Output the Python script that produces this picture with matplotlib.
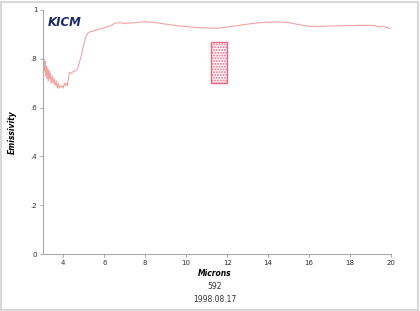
import matplotlib.pyplot as plt
import matplotlib.patches as mpatches

# spectrum
microns = [3.0, 3.03, 3.06, 3.09, 3.12, 3.15, 3.18, 3.21, 3.24, 3.27, 3.30, 3.33, 3.36,
           3.40, 3.45, 3.50, 3.55, 3.60, 3.65, 3.70, 3.75, 3.80, 3.85, 3.90, 3.95, 4.00,
           4.05, 4.10, 4.15, 4.20, 4.25, 4.30, 4.40, 4.50, 4.60, 4.70, 4.80, 4.90, 5.00,
           5.10, 5.20, 5.30, 5.50, 5.70, 5.90, 6.10, 6.30, 6.50, 6.70, 7.00, 7.50, 8.00,
           8.50, 9.00, 9.50, 10.0, 10.5, 11.0, 11.5, 12.0, 12.5, 13.0, 13.5, 14.0, 14.5,
           15.0, 15.5, 16.0, 16.5, 17.0, 17.5, 18.0, 18.5, 19.0, 19.2, 19.4, 19.6, 19.8, 20.0]
emissivity = [0.78, 0.74, 0.80, 0.75, 0.79, 0.73, 0.77, 0.72, 0.76, 0.71, 0.75, 0.72, 0.74,
              0.70, 0.73, 0.70, 0.72, 0.69, 0.71, 0.68, 0.70, 0.68, 0.69, 0.685, 0.69, 0.68,
              0.70, 0.69, 0.70, 0.69, 0.72, 0.745, 0.74, 0.75, 0.75, 0.76, 0.79, 0.82, 0.86,
              0.89, 0.905, 0.91, 0.915, 0.92, 0.925, 0.93, 0.935, 0.945, 0.948, 0.945, 0.948, 0.952,
              0.948, 0.942, 0.936, 0.932, 0.928, 0.926, 0.925, 0.93, 0.936, 0.942, 0.947, 0.95, 0.951,
              0.948, 0.94, 0.933, 0.932, 0.934, 0.935, 0.936, 0.937, 0.937, 0.936, 0.93, 0.933, 0.928, 0.924]

x_ticks = [4, 6, 8, 10, 12, 14, 16, 18, 20]
y_ticks = [0, 0.2, 0.4, 0.6, 0.8, 1.0]
y_labels = ['0', '.2', '.4', '.6', '.8', '1']

# red seal stamped on the sheet
stamp_x = [11.2, 12.0]
stamp_y = [0.70, 0.87]

fig = plt.figure(figsize=(4.2, 3.11), dpi=100)
ax = fig.add_axes([0.102, 0.183, 0.829, 0.785])

ax.plot(microns, emissivity, color='#f4a3a3', linewidth=0.8)

seal = mpatches.Rectangle((stamp_x[0], stamp_y[0]), stamp_x[1] - stamp_x[0], stamp_y[1] - stamp_y[0],
                          facecolor='none', edgecolor='#e83a60', hatch='......', linewidth=1.0, alpha=0.75)
ax.add_patch(seal)

ax.set_xlim(3, 20)
ax.set_ylim(0, 1)
ax.set_xticks(x_ticks)
ax.set_yticks(y_ticks)
ax.set_yticklabels(y_labels)
ax.tick_params(labelsize=5, length=2, width=0.6, color='#999999', labelcolor='#333333', pad=2)
for s in ['top', 'right']:
    ax.spines[s].set_visible(False)
for s in ['left', 'bottom']:
    ax.spines[s].set_color('#aaaaaa')
    ax.spines[s].set_linewidth(0.8)

ax.set_ylabel('Emissivity', fontsize=5.5, fontweight='bold', fontstyle='italic', labelpad=10)
ax.text(0.015, 0.935, 'KICM', transform=ax.transAxes, fontsize=8.5, fontweight='bold',
        fontstyle='italic', color='#1a2a6c')

fig.text(0.512, 0.113, 'Microns', ha='center', fontsize=5.5, fontweight='bold', fontstyle='italic')
fig.text(0.512, 0.07, '592', ha='center', fontsize=5.5, color='#333333')
fig.text(0.512, 0.03, '1998.08.17', ha='center', fontsize=5.5, color='#333333')

fig.patches.append(mpatches.Rectangle((0.003, 0.004), 0.992, 0.99, transform=fig.transFigure,
                                      facecolor='none', edgecolor='#d8d8d8', linewidth=1.5))

fig.savefig('out.png', dpi=100)
